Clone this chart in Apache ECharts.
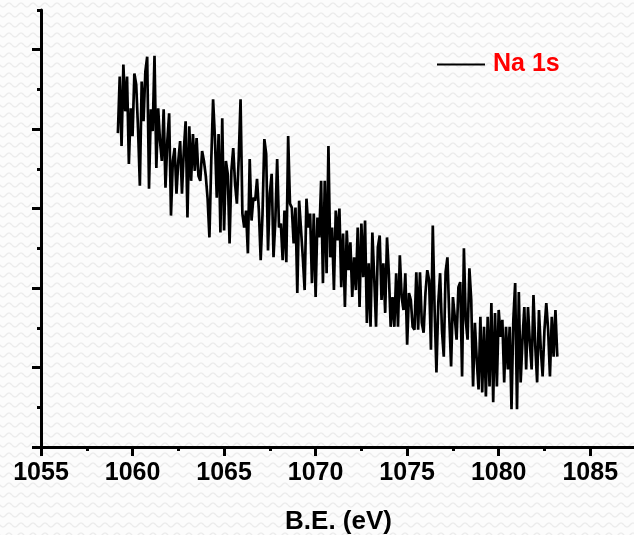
<!DOCTYPE html>
<html>
<head>
<meta charset="utf-8">
<script src="https://cdn.jsdelivr.net/npm/echarts@6/dist/echarts.min.js"></script>
<style>
  html, body { margin: 0; padding: 0; background: #fbfbfb; }
  #chart { width: 634px; height: 535px; }
</style>
</head>
<body>
<div id="chart"></div>
<script>
// Na 1s XPS spectrum: binding energy grid and measured intensity (a.u.)
const seriesName = 'Na 1s';
const energyStart = 1059.2;   // eV, first channel
const energyStep = 0.1;       // eV per channel

const naIntensity = [
  316, 373, 303, 385, 338, 373, 285, 341, 313, 376,
  365, 321, 263, 368, 328, 378, 393, 260, 340, 318,
  394, 281, 341, 308, 288, 340, 261, 308, 336, 233,
  288, 301, 255, 288, 308, 255, 298, 328, 231, 323,
  268, 315, 278, 311, 273, 268, 298, 288, 273, 250,
  211,
  288, 350, 311, 251, 315, 216, 331, 218, 288, 275,
  205, 278, 301, 265, 245, 291, 350, 235, 221, 238,
  195, 290, 228, 251, 248, 270, 238, 188, 235, 310,
  295, 198, 255, 275, 191, 228, 290, 221, 225, 188,
  238, 186, 313, 245, 241, 205, 241, 155, 248,
  248, 191, 158, 250, 221, 235, 165, 235, 151, 231,
  211, 268, 165, 268, 175, 303, 191, 221, 158, 238,
  208, 240, 161, 215, 141, 218, 178, 206, 151, 191,
  158, 221, 141, 225, 171, 228, 125, 185, 121, 216,
  171, 121, 201, 213, 148, 185, 135, 211, 175, 121,
  151, 121, 175, 121, 193, 151, 138, 175, 103,
  155, 148, 121, 118, 176, 118, 176, 125, 115, 155,
  178, 168, 98, 223, 138, 75, 145, 175, 118, 91,
  176, 191, 131, 81, 151, 131, 108, 161, 166, 71,
  200, 128, 108, 180, 148, 61, 125, 88, 58, 131,
  55, 121, 51, 131,
  61, 145, 45, 135, 61, 138, 111, 128, 65, 121,
  78, 121, 38, 128, 165, 38, 156, 65, 108, 141,
  78, 141, 105, 78, 153, 101, 65, 138, 98, 71,
  118, 145, 118, 71, 131, 91, 138, 91
];

// Axis ranges and tick marks
const xRange = [1055, 1087.5];
const xMajorTicks = [1055, 1060, 1065, 1070, 1075, 1080, 1085];
const yRange = [0, 440];
const yMajorTicks = [0, 80, 160, 240, 320, 400];

// Light wavy paper texture behind the plot
(function paintBackground() {
  const tile = document.createElement('canvas');
  tile.width = 12; tile.height = 10;
  const c = tile.getContext('2d');
  c.fillStyle = '#fcfcfc';
  c.fillRect(0, 0, 12, 10);
  c.strokeStyle = '#ebebeb';
  c.lineWidth = 1.3;
  c.beginPath();
  for (let x = 0; x <= 12; x += 0.5) {
    const y = 5 + 2 * Math.sin((x / 12) * Math.PI * 2);
    if (x === 0) c.moveTo(x, y); else c.lineTo(x, y);
  }
  c.stroke();
  document.body.style.backgroundImage = 'url(' + tile.toDataURL() + ')';
})();

const energies = naIntensity.map((_, i) => +(energyStart + i * energyStep).toFixed(2));
const spectrum = naIntensity.map((v, i) => [energies[i], v]);

const font = "'Liberation Sans', Arial, Helvetica, sans-serif";
const black = '#000000';

const chart = echarts.init(document.getElementById('chart'), null, { renderer: 'canvas' });

chart.setOption({
  animation: false,
  backgroundColor: 'transparent',
  textStyle: { fontFamily: font },
  grid: { left: 41, top: 10, width: 595, height: 437, containLabel: false, outerBoundsMode: 'none' },
  legend: {
    data: [{ name: seriesName, icon: 'rect', itemStyle: { color: black } }],
    left: 432,
    top: 47,
    padding: 5,
    itemWidth: 48,
    itemHeight: 2,
    textStyle: { color: '#ff0000', fontSize: 25, fontWeight: 'bold', fontFamily: font, padding: [0, 0, 0, 3] }
  },
  xAxis: [
    {
      // axis line with the half-step ticks
      type: 'value', position: 'bottom',
      min: xRange[0], max: xRange[1], interval: 2.5,
      axisLine: { onZero: false, lineStyle: { color: black, width: 3 } },
      axisTick: { length: 4, lineStyle: { color: black, width: 3 } },
      axisLabel: { show: false },
      splitLine: { show: false }
    },
    {
      // labelled major ticks
      type: 'value', position: 'bottom',
      min: xRange[0], max: xRange[1], interval: 5,
      axisLine: { show: false, onZero: false },
      axisTick: { length: 9, customValues: xMajorTicks, lineStyle: { color: black, width: 3 } },
      axisLabel: {
        customValues: xMajorTicks, margin: 14,
        formatter: (v) => String(v),
        fontSize: 25, fontWeight: 'bold', color: black, fontFamily: font
      },
      splitLine: { show: false },
      name: 'B.E. (eV)', nameLocation: 'middle', nameGap: 62,
      nameTextStyle: { fontSize: 26, fontWeight: 'bold', color: black, fontFamily: font }
    }
  ],
  yAxis: [
    {
      type: 'value', position: 'left',
      min: yRange[0], max: yRange[1], interval: 40,
      axisLine: { onZero: false, lineStyle: { color: black, width: 3 } },
      axisTick: { length: 4, lineStyle: { color: black, width: 3 } },
      axisLabel: { show: false },
      splitLine: { show: false }
    },
    {
      type: 'value', position: 'left',
      min: yRange[0], max: yRange[1], interval: 80,
      axisLine: { show: false, onZero: false },
      axisTick: { length: 9, customValues: yMajorTicks, lineStyle: { color: black, width: 3 } },
      axisLabel: { show: false },
      splitLine: { show: false }
    }
  ],
  series: [
    {
      name: seriesName,
      type: 'line',
      xAxisIndex: 0,
      yAxisIndex: 0,
      data: spectrum,
      symbol: 'none',
      showSymbol: false,
      lineStyle: { color: black, width: 2.7, join: 'bevel' },
      itemStyle: { color: black }
    }
  ]
});
</script>
</body>
</html>
